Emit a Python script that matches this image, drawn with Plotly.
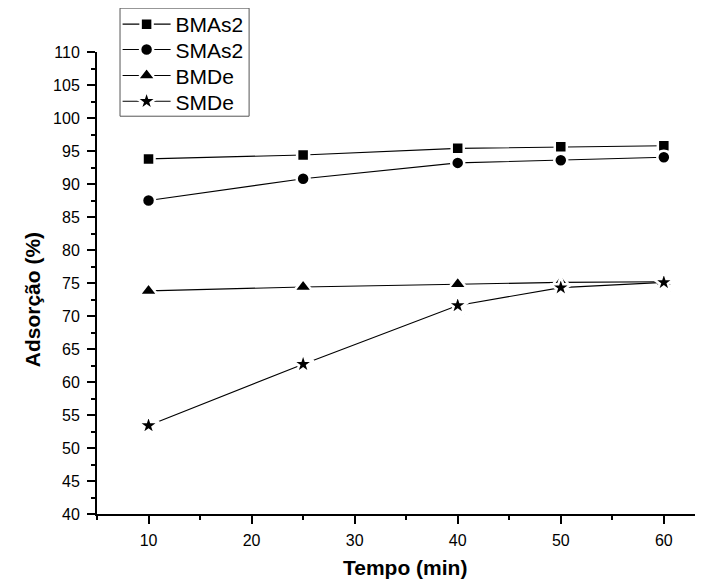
import plotly.graph_objects as go

tempo = [10, 25, 40, 50, 60]
bmas2 = [93.8, 94.4, 95.4, 95.65, 95.8]
smas2 = [87.5, 90.8, 93.2, 93.6, 94.05]
bmde = [73.8, 74.4, 74.8, 75.1, 75.2]
smde = [53.4, 62.7, 71.6, 74.3, 75.1]

series = [
    ("BMAs2", bmas2, "square", 12),
    ("SMAs2", smas2, "circle", 13),
    ("BMDe", bmde, "triangle-up", 16),
    ("SMDe", smde, "star", 16),
]

x_title = "Tempo (min)"
y_title = "Adsorção (%)"

FONT = "Liberation Sans, Arial, sans-serif"

# vertical centre of each legend row (paper coords) - tight Origin-style spacing
legend_rows = [1.0595, 1.0045, 0.9485, 0.8925]
legend_ids = ["legend", "legend2", "legend3", "legend4"]

fig = go.Figure()
for (name, vals, sym, sz), lid in zip(series, legend_ids):
    fig.add_trace(go.Scatter(
        x=tempo, y=vals, name=name, mode="lines+markers",
        line=dict(color="black", width=1.1),
        marker=dict(symbol=sym, size=sz, color="black",
                    line=dict(color="white", width=2.5)),
        legend=lid,
    ))

legend_common = dict(
    x=0.034, xanchor="left", yanchor="middle",
    borderwidth=0, bgcolor="rgba(0,0,0,0)",
    font=dict(family=FONT, size=21, color="black"),
    itemwidth=48,
)

# the page body has an 8px default margin; the figure is sized to compensate
fig.update_layout(
    width=695, height=577,
    margin=dict(l=89, r=0, t=44, b=71, autoexpand=False),
    paper_bgcolor="white", plot_bgcolor="white",
    font=dict(family=FONT, color="black", size=16),
    showlegend=True,
    annotations=[
        dict(text="<b>" + x_title + "</b>", xref="paper", yref="paper",
             x=0.508, y=-0.115, xanchor="center", yanchor="middle",
             showarrow=False, font=dict(family=FONT, size=21, color="black")),
        dict(text="<b>" + y_title + "</b>", xref="paper", yref="paper",
             x=-0.107, y=0.463, xanchor="center", yanchor="middle", textangle=-90,
             showarrow=False, font=dict(family=FONT, size=21, color="black")),
    ],
    shapes=[
        dict(type="rect", xref="paper", yref="paper",
             x0=0.038, x1=0.251, y0=0.861, y1=1.095,
             line=dict(color="#555555", width=1), fillcolor="rgba(0,0,0,0)"),
    ],
)
for lid, ypos in zip(legend_ids, legend_rows):
    fig.update_layout({lid: dict(legend_common, y=ypos)})

fig.update_xaxes(
    range=[5, 63.8], tickmode="linear", tick0=0, dtick=10,
    showgrid=False, zeroline=False,
    showline=True, linecolor="black", linewidth=2,
    ticks="outside", ticklen=8, tickwidth=1.5, tickcolor="black",
    minor=dict(ticks="outside", ticklen=4, tickwidth=1.5, tickcolor="black", dtick=5, tick0=0, showgrid=False),
    tickfont=dict(family=FONT, size=16, color="black"),
    ticklabelstandoff=3,
)
fig.update_yaxes(
    range=[40, 110], tickmode="linear", tick0=0, dtick=5,
    showgrid=False, zeroline=False,
    showline=True, linecolor="black", linewidth=2,
    ticks="outside", ticklen=8, tickwidth=1.5, tickcolor="black",
    minor=dict(ticks="outside", ticklen=4, tickwidth=1.5, tickcolor="black", dtick=2.5, tick0=0, showgrid=False),
    tickfont=dict(family=FONT, size=16, color="black"),
    ticklabelstandoff=4,
)

fig.write_html("out.html")
